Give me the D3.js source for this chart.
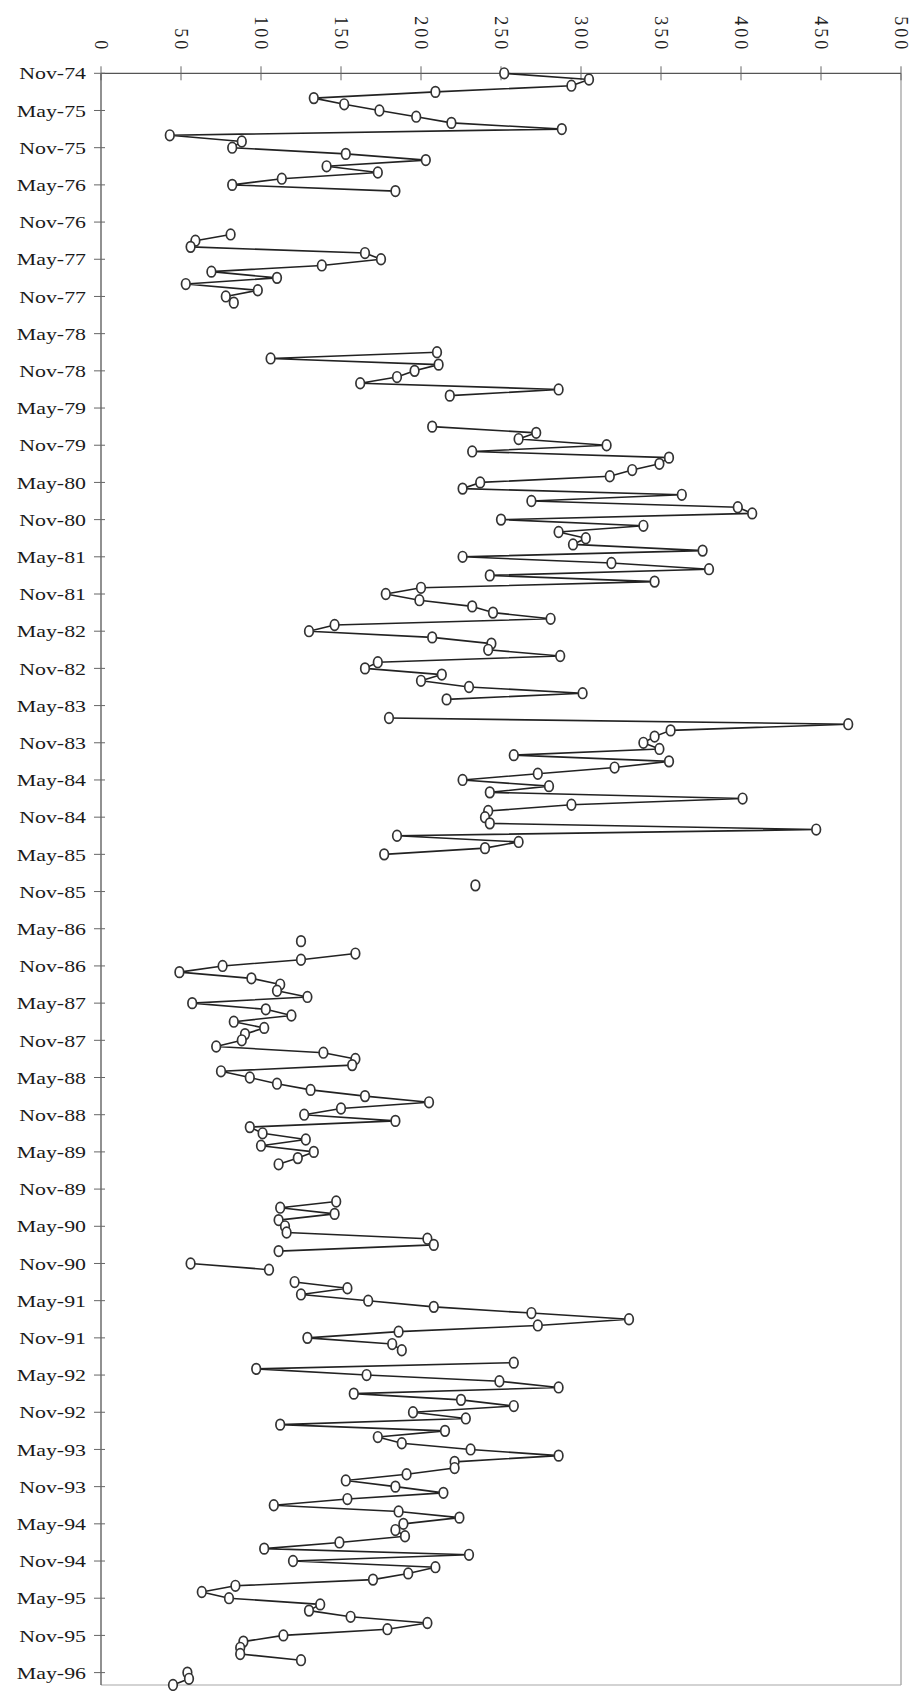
<!DOCTYPE html>
<html>
<head>
<meta charset="utf-8">
<script src="https://cdn.jsdelivr.net/npm/d3@7"></script>
<style>
  html, body { margin: 0; padding: 0; background: #fff; }
  svg { display: block; }
</style>
</head>
<body>
<svg id="chart" width="923" height="1691"></svg>
<script>
// Monthly series, first value is Nov-74; null marks a month with no reading.
const startMonth = "Nov-74";
const monthlyValues = [
  // 1974 (Nov, Dec)
  252, 305,
  // 1975
  294, 209, 133, 152, 174, 197, 219, 288, 43, 88, 82, 153,
  // 1976
  203, 141, 173, 113, 82, 184, null, null, null, null, null, null,
  // 1977
  81, 59, 56, 165, 175, 138, 69, 110, 53, 98, 78, 83,
  // 1978
  null, null, null, null, null, null, null, 210, 106, 211, 196, 185,
  // 1979
  162, 286, 218, null, null, null, null, 207, 272, 261, 316, 232,
  // 1980
  355, 349, 332, 318, 237, 226, 363, 269, 398, 407, 250, 339,
  // 1981
  286, 303, 295, 376, 226, 319, 380, 243, 346, 200, 178, 199,
  // 1982
  232, 245, 281, 146, 130, 207, 244, 242, 287, 173, 165, 213,
  // 1983
  200, 230, 301, 216, null, null, 180, 467, 356, 346, 339, 349,
  // 1984
  258, 355, 321, 273, 226, 280, 243, 401, 294, 242, 240, 243,
  // 1985
  447, 185, 261, 240, 177, null, null, null, null, 234, null, null,
  // 1986
  null, null, null, null, null, null, 125, null, 159, 125, 76, 49,
  // 1987
  94, 112, 110, 129, 57, 103, 119, 83, 102, 90, 88, 72,
  // 1988
  139, 159, 157, 75, 93, 110, 131, 165, 205, 150, 127, 184,
  // 1989
  93, 101, 128, 100, 133, 123, 111, null, null, null, null, null,
  // 1990
  147, 112, 146, 111, 115, 116, 204, 208, 111, null, 56, 105,
  // 1991
  null, 121, 154, 125, 167, 208, 269, 330, 273, 186, 129, 182,
  // 1992
  188, null, 258, 97, 166, 249, 286, 158, 225, 258, 195, 228,
  // 1993
  112, 215, 173, 188, 231, 286, 221, 221, 191, 153, 184, 214,
  // 1994
  154, 108, 186, 224, 189, 184, 190, 149, 102, 230, 120, 209,
  // 1995
  192, 170, 84, 63, 80, 137, 130, 156, 204, 179, 114, 89,
  // 1996
  87, 87, 125, null, 54, 55, 45
];

const valueTicks = [0, 50, 100, 150, 200, 250, 300, 350, 400, 450, 500];
const dateTicks = [
  "Nov-74", "May-75", "Nov-75", "May-76", "Nov-76", "May-77", "Nov-77", "May-78",
  "Nov-78", "May-79", "Nov-79", "May-80", "Nov-80", "May-81", "Nov-81", "May-82",
  "Nov-82", "May-83", "Nov-83", "May-84", "Nov-84", "May-85", "Nov-85", "May-86",
  "Nov-86", "May-87", "Nov-87", "May-88", "Nov-88", "May-89", "Nov-89", "May-90",
  "Nov-90", "May-91", "Nov-91", "May-92", "Nov-92", "May-93", "Nov-93", "May-94",
  "Nov-94", "May-95", "Nov-95", "May-96"
];

const parseMonth = d3.utcParse("%b-%y");
const start = parseMonth(startMonth);
const data = monthlyValues.map((v, i) => ({ i, date: d3.utcMonth.offset(start, i), value: v }));

// Plot frame: values run left to right, time runs top to bottom.
const plotLeft = 101, plotRight = 901, plotTop = 73.3, plotBottom = 1685;

const x = d3.scaleLinear().domain([0, 500]).range([plotLeft, plotRight]);
const y = d3.scaleLinear().domain([0, monthlyValues.length - 1]).range([plotTop, plotBottom]);
const monthIndex = d => d3.utcMonth.count(start, d);

const svg = d3.select("#chart");
svg.append("rect").attr("width", 923).attr("height", 1691).attr("fill", "#fff");

// Frame lines on the far sides
svg.append("line").attr("x1", plotRight).attr("x2", plotRight).attr("y1", plotTop).attr("y2", plotBottom)
  .attr("stroke", "#9a9a9a").attr("stroke-width", 1.2);
svg.append("line").attr("x1", plotLeft).attr("x2", plotRight).attr("y1", plotBottom).attr("y2", plotBottom)
  .attr("stroke", "#a8a8a8").attr("stroke-width", 1.2);

// Value axis along the top
const topAxis = svg.append("g").attr("class", "value-axis");
topAxis.append("line").attr("x1", plotLeft).attr("x2", plotRight).attr("y1", plotTop).attr("y2", plotTop)
  .attr("stroke", "#555").attr("stroke-width", 1.3);
topAxis.selectAll("line.tick").data(valueTicks).join("line")
  .attr("class", "tick")
  .attr("x1", d => x(d)).attr("x2", d => x(d))
  .attr("y1", plotTop - 7).attr("y2", plotTop + 7)
  .attr("stroke", "#666").attr("stroke-width", 1);
topAxis.selectAll("text").data(valueTicks).join("text")
  .attr("transform", d => `translate(${x(d)},${plotTop - 21}) rotate(90)`)
  .attr("text-anchor", "end")
  .attr("dominant-baseline", "central")
  .attr("font-family", "Liberation Serif, Times New Roman, serif")
  .attr("font-size", 18)
  .attr("letter-spacing", 3)
  .attr("fill", "#222")
  .text(d => d);

// Time axis along the left
const leftAxis = svg.append("g").attr("class", "time-axis");
leftAxis.append("line").attr("x1", plotLeft).attr("x2", plotLeft).attr("y1", plotTop).attr("y2", plotBottom)
  .attr("stroke", "#555").attr("stroke-width", 1.3);
leftAxis.selectAll("line.tick").data(dateTicks).join("line")
  .attr("class", "tick")
  .attr("x1", plotLeft - 7).attr("x2", plotLeft + 4)
  .attr("y1", d => y(monthIndex(parseMonth(d)))).attr("y2", d => y(monthIndex(parseMonth(d))))
  .attr("stroke", "#666").attr("stroke-width", 1);
leftAxis.selectAll("text").data(dateTicks).join("text")
  .attr("transform", d => `translate(${plotLeft - 15},${y(monthIndex(parseMonth(d)))}) scale(1.25,1)`)
  .attr("text-anchor", "end")
  .attr("dominant-baseline", "central")
  .attr("font-family", "Liberation Serif, Times New Roman, serif")
  .attr("font-size", 17.5)
  .attr("fill", "#1a1a1a")
  .text(d => d);

// Series line, broken where months are missing
const line = d3.line()
  .defined(d => d.value != null)
  .x(d => x(d.value))
  .y(d => y(d.i));

svg.append("path").datum(data)
  .attr("d", line)
  .attr("fill", "none")
  .attr("stroke", "#222")
  .attr("stroke-width", 1.6)
  .attr("stroke-linejoin", "round");

// Open circle markers
svg.append("g").selectAll("ellipse")
  .data(data.filter(d => d.value != null))
  .join("ellipse")
  .attr("cx", d => x(d.value))
  .attr("cy", d => y(d.i))
  .attr("rx", 4.3)
  .attr("ry", 5.3)
  .attr("fill", "#fff")
  .attr("stroke", "#333")
  .attr("stroke-width", 1.7);
</script>
</body>
</html>
